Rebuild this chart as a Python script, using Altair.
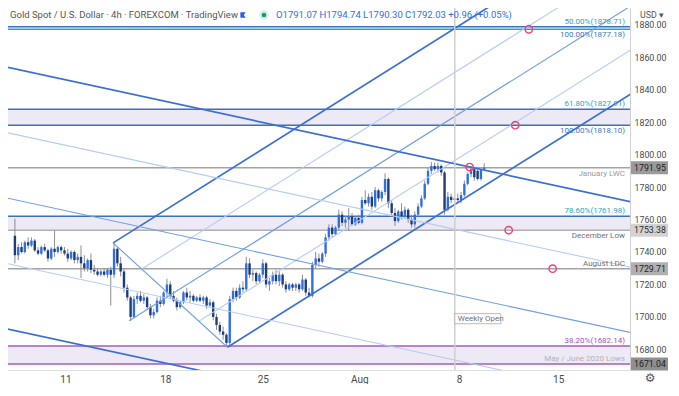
import altair as alt
import pandas as pd

# ---------------- data (4h bars) ----------------
opens = [1750, 1738, 1743, 1740, 1746, 1744, 1747, 1741, 1739, 1743,
         1741, 1736, 1742, 1740, 1743, 1741, 1739, 1736, 1740, 1735,
         1737, 1733, 1730, 1735, 1729, 1728, 1726, 1728, 1726, 1729,
         1726, 1742, 1733, 1728, 1718, 1712, 1700, 1711, 1713, 1710,
         1712, 1706, 1701, 1703, 1710, 1708, 1715, 1720, 1713, 1710,
         1706, 1709, 1715, 1712, 1713, 1710, 1712, 1710, 1712, 1707,
         1709, 1700, 1695, 1691, 1689, 1684, 1711, 1716, 1712, 1718,
         1717, 1733, 1726, 1727, 1722, 1726, 1733, 1720, 1722, 1726,
         1722, 1726, 1720, 1717, 1720, 1718, 1720, 1717, 1723, 1715,
         1713, 1732, 1736, 1734, 1739, 1749, 1755, 1751, 1755, 1763,
         1758, 1760, 1762, 1757, 1761, 1758, 1772, 1770, 1774, 1768,
         1778, 1773, 1777, 1785, 1770, 1764, 1759, 1765, 1762, 1766,
         1760, 1757, 1763, 1768, 1773, 1782, 1790, 1793, 1791, 1793,
         1789, 1766, 1774, 1772, 1773, 1772, 1775, 1782, 1788, 1791,
         1790, 1785, 1791.07]
highs = [1760.5, 1745, 1746, 1747, 1749, 1749, 1748, 1743, 1744, 1745,
         1742, 1743, 1753, 1744, 1744, 1743, 1742, 1741, 1741, 1739,
         1744, 1738, 1736, 1739, 1732, 1730, 1729, 1730, 1730, 1731,
         1745.6, 1743, 1737, 1730, 1720, 1713, 1713, 1715, 1716, 1714,
         1713, 1708, 1705, 1712, 1713, 1716, 1723.5, 1722, 1716, 1712,
         1710, 1716, 1718, 1716, 1714, 1713, 1714, 1713, 1713, 1711,
         1710, 1702, 1697, 1694, 1690, 1713, 1718, 1718, 1720, 1722,
         1737, 1736, 1729, 1728, 1727, 1735.5, 1734, 1724, 1728, 1729,
         1728, 1727, 1722, 1721, 1721, 1721, 1721, 1726, 1724, 1718,
         1734, 1740, 1739, 1740, 1751, 1757, 1757, 1756, 1766, 1765,
         1762, 1767, 1764, 1762, 1763, 1774, 1778, 1776, 1777, 1780,
         1779, 1778, 1788.5, 1786, 1772, 1767, 1766, 1770, 1768, 1767,
         1763, 1765, 1770, 1775, 1784, 1792, 1795.5, 1795, 1795, 1794,
         1790, 1777, 1776, 1775, 1776, 1777, 1784, 1789, 1793, 1792,
         1791, 1791, 1794.74]
lows = [1733, 1735, 1739, 1739, 1742, 1743, 1740, 1738, 1738, 1740,
        1734, 1735, 1737, 1739, 1739, 1738, 1734, 1735, 1733, 1733,
        1724, 1728, 1728, 1727, 1726, 1725, 1725, 1725, 1724, 1707,
        1724, 1731, 1725, 1715, 1710, 1697.6, 1699, 1708, 1709, 1708,
        1705, 1699, 1699, 1702, 1706, 1707, 1712, 1711, 1709, 1704,
        1705, 1708, 1710, 1709, 1709, 1709, 1709, 1708, 1705, 1706,
        1698, 1692, 1689, 1686, 1681.4, 1682, 1709, 1710, 1711, 1715,
        1716, 1724, 1722, 1720, 1721, 1724, 1718, 1716, 1720, 1720,
        1719, 1718, 1715, 1716, 1716, 1716, 1715, 1716, 1713, 1712,
        1712, 1730, 1731, 1733, 1737, 1747, 1749, 1750, 1753, 1756,
        1755, 1753, 1756, 1756, 1757, 1757, 1769, 1768, 1766, 1767,
        1771, 1771, 1775, 1767, 1762, 1756, 1758, 1760, 1761, 1758,
        1755, 1755, 1762, 1767, 1772, 1781, 1788, 1790, 1789, 1787,
        1763, 1765, 1770, 1770, 1771, 1770, 1774, 1781, 1786, 1784,
        1784, 1784, 1790.30]
closes = [1738, 1743, 1740, 1746, 1744, 1747, 1741, 1739, 1743, 1741,
          1736, 1742, 1740, 1743, 1741, 1739, 1736, 1740, 1735, 1737,
          1733, 1730, 1735, 1729, 1728, 1726, 1728, 1726, 1729, 1726,
          1742, 1733, 1728, 1718, 1712, 1700, 1711, 1713, 1710, 1712,
          1706, 1701, 1703, 1710, 1708, 1715, 1720, 1713, 1710, 1706,
          1709, 1715, 1712, 1713, 1710, 1712, 1710, 1712, 1707, 1709,
          1700, 1695, 1691, 1689, 1684, 1711, 1716, 1712, 1718, 1717,
          1733, 1726, 1727, 1722, 1726, 1733, 1720, 1722, 1726, 1722,
          1726, 1720, 1717, 1720, 1718, 1720, 1717, 1723, 1715, 1713,
          1732, 1736, 1734, 1739, 1749, 1755, 1751, 1755, 1763, 1758,
          1760, 1762, 1757, 1761, 1758, 1772, 1770, 1774, 1768, 1778,
          1773, 1777, 1785, 1770, 1764, 1759, 1765, 1762, 1766, 1760,
          1757, 1763, 1768, 1773, 1782, 1790, 1793, 1791, 1793, 1789,
          1766, 1774, 1772, 1773, 1772, 1775, 1782, 1788, 1791, 1786,
          1785, 1790.5, 1792.03]
bar_index = list(range(len(closes)))

week_ticks = [15.3, 45.5, 75.0, 104.2, 134.4, 164.4]
week_labels = ["11", "18", "25", "Aug", "8", "15"]
price_ticks = [1680, 1700, 1720, 1740, 1760, 1780, 1800, 1820, 1840, 1860, 1880]

level_prices = [1878.71, 1877.18, 1827.91, 1818.10, 1791.95, 1761.98, 1753.38, 1729.71, 1682.14, 1671.04]
level_line_colors = ["#3f6fbf", "#2ea3b8", "#3f6fbf", "#3f6fbf", "#a3a3a3",
                     "#3f6fbf", "#b0b0b0", "#a3a3a3", "#a35bc2", "#a35bc2"]
level_texts = ["50.00%(1878.71)", "100.00%(1877.18)", "61.80%(1827.91)", "100.00%(1818.10)",
               "January LWC", "78.60%(1761.98)", "December Low", "August LDC",
               "38.20%(1682.14)", "May / June 2020 Lows"]
level_text_colors = ["#2ea3b8", "#3f74c0", "#2ea3b8", "#3f74c0", "#9a9a9a",
                     "#2ea3b8", "#6f6f6f", "#6f6f6f", "#a84fc8", "#b3b3b3"]
level_text_pos = ["above", "below", "above", "below", "below",
                  "above", "below", "above", "above", "above"]

band_low = [1818.10, 1753.38, 1671.04]
band_high = [1827.91, 1761.98, 1682.14]

tag_prices = [1791.95, 1753.38, 1729.71, 1671.04]
tag_fill = ["#9a9a9a", "#d2d2d2", "#b0b0b0", "#8f8f8f"]
tag_text_color = ["#1e1e1e", "#2a2a2a", "#1e1e1e", "#1e1e1e"]

# rising pitchfork anchors (P1 start of median, P2 high, P3 low)
asc_bars = [34.6, 29.7, 64.3]
asc_prices = [1697.6, 1745.6, 1681.3]
# falling pitchfork: line values at left edge and common slope (per bar)
desc_left_prices = [1853.0, 1812.7, 1772.4, 1732.1, 1691.8]
desc_slope = -0.439

circle_bars = [137.6, 151.4, 155.5, 149.4, 162.7]
circle_prices = [1792.3, 1818.1, 1877.2, 1753.4, 1729.7]

weekly_open_bar = 133.1
weekly_label_price = 1698.9

header_text = "Gold Spot / U.S. Dollar · 4h · FOREXCOM · TradingView"

# ---------------- layout ----------------
W, H = 622, 362
PAD_R = 38
X_MIN, X_MAX = -0.58, 184.6
Y_MIN, Y_MAX = 1667.3, 1890.3
FONT = "Roboto"
UP, DOWN, WICK = "#2f6fe6", "#1d3d78", "#8d8d8d"
THICK, MED, LIGHT = "#3b6fd6", "#6f9fe2", "#b4cdf2"

xs = alt.Scale(domain=[X_MIN, X_MAX], nice=False, zero=False)
ys = alt.Scale(domain=[Y_MIN, Y_MAX], nice=False, zero=False)

label_expr = "''"
for v, t in reversed(list(zip(week_ticks, week_labels))):
    label_expr = f"abs(datum.value - {v}) < 1 ? '{t}' : {label_expr}"

x_axis = alt.Axis(values=week_ticks, labelExpr=label_expr, title=None, ticks=False, grid=False,
                  domainColor="#dedede", labelColor="#4a4a4a", labelFontSize=10, labelFont=FONT,
                  labelPadding=4, labelFlush=False)
y_axis = alt.Axis(orient="right", values=price_ticks, format=".2f", title=None, ticks=False,
                  grid=False, domainColor="#d0d0d0", labelColor="#4a4a4a", labelFontSize=8.8,
                  labelFont=FONT, labelPadding=4)


def X(f):
    return alt.X(f, scale=xs, axis=x_axis)


def Y(f):
    return alt.Y(f, scale=ys, axis=y_axis)


cndl = pd.DataFrame(dict(i=bar_index, o=opens, h=highs, l=lows, c=closes))
cndl["col"] = [UP if c >= o else DOWN for o, c in zip(opens, closes)]

# pitchfork segments
X_END = 200
p1x, p2x, p3x = asc_bars
p1y, p2y, p3y = asc_prices
mx, my = (p2x + p3x) / 2, (p2y + p3y) / 2
k = (my - p1y) / (mx - p1x)
segs = []


def ray(x0, y0, col, w):
    segs.append(dict(x=x0, y=y0, x2=X_END, y2=y0 + k * (X_END - x0), col=col, w=w))


ray(p2x, p2y, THICK, 1.7)
ray(p2x + 0.25 * (p3x - p2x), p2y + 0.25 * (p3y - p2y), LIGHT, 1.1)
ray(p1x, p1y, MED, 1.1)
ray(p2x + 0.75 * (p3x - p2x), p2y + 0.75 * (p3y - p2y), LIGHT, 1.1)
ray(p3x, p3y, THICK, 1.7)
segs.append(dict(x=p2x, y=p2y, x2=p3x, y2=p3y, col=MED, w=1.1))
for pr, col, w in zip(desc_left_prices, [THICK, LIGHT, MED, LIGHT, THICK], [1.7, 1.1, 1.1, 1.1, 1.7]):
    segs.append(dict(x=-5, y=pr + desc_slope * (-5 - X_MIN), x2=X_END,
                     y2=pr + desc_slope * (X_END - X_MIN), col=col, w=w))
segdf = pd.DataFrame(segs)

lev = pd.DataFrame(dict(p=level_prices, lc=level_line_colors, t=level_texts,
                        tc=level_text_colors, pos=level_text_pos))
bands = pd.DataFrame(dict(lo=band_low, hi=band_high))
tags = pd.DataFrame(dict(p=tag_prices, f=tag_fill, tc=tag_text_color,
                         t=[f"{v:.2f}" for v in tag_prices]))
circ = pd.DataFrame(dict(b=circle_bars, p=circle_prices))

band_layer = alt.Chart(bands).mark_rect(color="#ebe7f4", opacity=0.9).encode(
    x=alt.value(0), x2=alt.value(W), y=Y("lo:Q"), y2="hi:Q")

level_layer = alt.Chart(lev).mark_rule(strokeWidth=1.5).encode(
    y=Y("p:Q"), color=alt.Color("lc:N", scale=None))

wick_layer = alt.Chart(cndl).mark_rule(color=WICK, strokeWidth=1).encode(
    x=X("i:Q"), y=Y("l:Q"), y2="h:Q")

body_layer = alt.Chart(cndl).mark_bar(size=2.4).encode(
    x=X("i:Q"), y=Y("o:Q"), y2="c:Q", color=alt.Color("col:N", scale=None))

fork_layer = alt.Chart(segdf).mark_rule(clip=True).encode(
    x=X("x:Q"), y=Y("y:Q"), x2="x2:Q", y2="y2:Q",
    color=alt.Color("col:N", scale=None), strokeWidth=alt.StrokeWidth("w:Q", scale=None))

vline = alt.Chart(pd.DataFrame(dict(b=[weekly_open_bar]))).mark_rule(
    color="#cfcfcf", strokeWidth=1.5).encode(x=X("b:Q"))

circle_layer = alt.Chart(circ).mark_point(
    shape="circle", filled=False, size=55, strokeWidth=1.4, color="#e8457c", opacity=1).encode(
    x=X("b:Q"), y=Y("p:Q"))

above = alt.Chart(lev).transform_filter("datum.pos == 'above'").mark_text(
    align="right", baseline="bottom", dy=-1, fontSize=8, font=FONT).encode(
    x=alt.value(W - 5), y=Y("p:Q"), text="t:N", color=alt.Color("tc:N", scale=None))
below = alt.Chart(lev).transform_filter("datum.pos == 'below'").mark_text(
    align="right", baseline="top", dy=2, fontSize=8, font=FONT).encode(
    x=alt.value(W - 5), y=Y("p:Q"), text="t:N", color=alt.Color("tc:N", scale=None))

tag_box = alt.Chart(tags).mark_rule(strokeWidth=13, strokeCap="butt").encode(
    x=alt.value(W + 1), x2=alt.value(W + PAD_R), y=Y("p:Q"), color=alt.Color("f:N", scale=None))
tag_txt = alt.Chart(tags).mark_text(align="left", baseline="middle", fontSize=8.8,
                                    font=FONT).encode(
    x=alt.value(W + 4), y=Y("p:Q"), text="t:N", color=alt.Color("tc:N", scale=None))

wo = pd.DataFrame(dict(b=[weekly_open_bar], p=[weekly_label_price], t=["Weekly Open"]))
wo_rect = alt.Chart(wo).mark_point(
    shape="M0,-0.22 L2,-0.22 L2,0.22 L0,0.22 Z", size=2116, filled=True, fill="white",
    stroke="#a8a8a8", strokeWidth=0.8, opacity=1).encode(x=X("b:Q"), y=Y("p:Q"))
wo_txt = alt.Chart(wo).mark_text(align="left", baseline="middle", fontSize=8, font=FONT,
                                 color="#6f6f6f", dx=3).encode(x=X("b:Q"), y=Y("p:Q"), text="t:N")

last = len(closes) - 1
ohlc = (f"O{opens[last]:.2f} H{highs[last]:.2f} L{lows[last]:.2f} C{closes[last]:.2f} "
        f"+0.96 (+0.05%)")
hdr = pd.DataFrame(dict(t=[header_text], o=[ohlc]))
hdr1 = alt.Chart(hdr).mark_text(align="left", baseline="middle", fontSize=9.5, font=FONT,
                                color="#555555").encode(
    x=alt.value(2), y=alt.value(7), text="t:N")
hdr2 = alt.Chart(hdr).mark_text(align="left", baseline="middle", fontSize=9.5, font=FONT,
                                color="#2f6fe0").encode(
    x=alt.value(268), y=alt.value(7), text="o:N")
flag = alt.Chart(hdr).mark_point(shape="M-1,-1 L1,-1 L0.3,0 L1,1 L-1,1 Z", size=28,
                                 filled=True, color="#2f5fe0", opacity=1).encode(
    x=alt.value(235), y=alt.value(7))
halo = alt.Chart(hdr).mark_point(shape="circle", size=90, filled=True, color="#d3efe6",
                                 opacity=1).encode(x=alt.value(256), y=alt.value(7))
dot = alt.Chart(hdr).mark_point(shape="circle", size=22, filled=True, color="#1c9a73",
                                opacity=1).encode(x=alt.value(256), y=alt.value(7))
usd = alt.Chart(hdr).mark_text(align="left", baseline="middle", fontSize=8.8, font=FONT,
                               color="#555555").encode(
    x=alt.value(W + 10), y=alt.value(7), text=alt.value("USD ▾"))
gear = alt.Chart(hdr).mark_text(align="center", baseline="middle", fontSize=12,
                                font="DejaVu Sans", color="#555555").encode(
    x=alt.value(W + 20), y=alt.value(H + 8), text=alt.value("⚙"))

chart = alt.layer(
    band_layer, level_layer, wick_layer, body_layer, fork_layer, vline, circle_layer,
    above, below, wo_rect, wo_txt, tag_box, tag_txt, hdr1, flag, halo, dot, hdr2, usd, gear
).properties(
    width=W, height=H,
    padding={"left": 0, "top": 0, "right": PAD_R, "bottom": 14},
    autosize=alt.AutoSizeParams(type="none"),
    background="white",
).configure_view(stroke=None)

chart.save("out.html", embed_options={"renderer": "svg", "actions": False})
